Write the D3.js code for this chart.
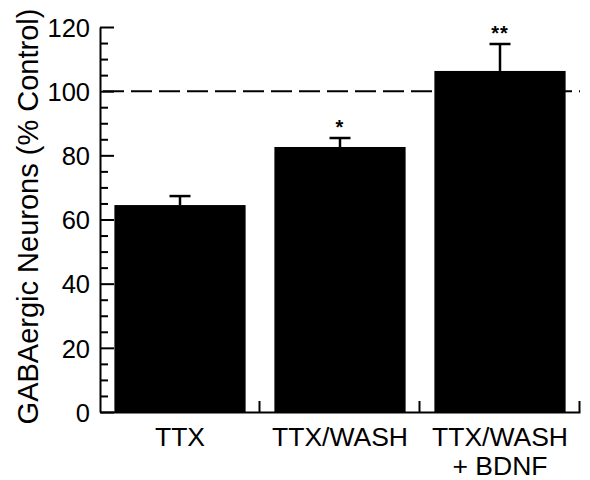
<!DOCTYPE html>
<html>
<head>
<meta charset="utf-8">
<script src="https://cdn.jsdelivr.net/npm/d3@7"></script>
<style>
  body { margin: 0; background: #fff; }
  text { font-family: "Liberation Sans", Arial, Helvetica, sans-serif; fill: #000; }
</style>
</head>
<body>
<div id="chart"></div>
<script>
// data
let categories = ['TTX', 'TTX/WASH', 'TTX/WASH\n+ BDNF'];
let values = [64.5, 82.6, 106.3];
let errors = [2.8, 2.8, 8.4];
let stars = ['', '*', '**'];
let yTicks = [0, 20, 40, 60, 80, 100, 120];
let control = 100;

let w = 590;
let h = 480;
let mLeft = 100, mRight = 580, mTop = 27, mBottom = 412;

let svg = d3.select('#chart')
  .append('svg')
  .attr('width', w)
  .attr('height', h);

let x = d3.scaleBand()
  .domain(categories)
  .range([mLeft, mRight])
  .paddingInner(0.18)
  .paddingOuter(0.09);

let y = d3.scaleLinear()
  .domain([0, 120])
  .range([mBottom, mTop]);

// dashed control line (behind bars)
svg.append('line')
  .attr('x1', mLeft)
  .attr('x2', mRight)
  .attr('y1', y(control))
  .attr('y2', y(control))
  .attr('stroke', '#000')
  .attr('stroke-width', 2)
  .attr('stroke-dasharray', '21,7')
  .attr('stroke-dashoffset', 25);

// bars
svg.selectAll('rect.bar')
  .data(values)
  .enter()
  .append('rect')
  .attr('class', 'bar')
  .attr('x', function(d, i) { return x(categories[i]); })
  .attr('y', function(d) { return y(d); })
  .attr('width', x.bandwidth())
  .attr('height', function(d) { return y(0) - y(d); })
  .attr('fill', '#000');

// error bars (upper only)
let eb = svg.selectAll('g.err')
  .data(values)
  .enter()
  .append('g')
  .attr('class', 'err')
  .attr('stroke', '#000')
  .attr('stroke-width', 2.5);

eb.append('line')
  .attr('x1', function(d, i) { return x(categories[i]) + x.bandwidth() / 2; })
  .attr('x2', function(d, i) { return x(categories[i]) + x.bandwidth() / 2; })
  .attr('y1', function(d) { return y(d); })
  .attr('y2', function(d, i) { return y(d + errors[i]); });

eb.append('line')
  .attr('x1', function(d, i) { return x(categories[i]) + x.bandwidth() / 2 - 10.5; })
  .attr('x2', function(d, i) { return x(categories[i]) + x.bandwidth() / 2 + 10.5; })
  .attr('y1', function(d, i) { return y(d + errors[i]); })
  .attr('y2', function(d, i) { return y(d + errors[i]); });

// significance stars
svg.selectAll('text.star')
  .data(values)
  .enter()
  .append('text')
  .attr('class', 'star')
  .attr('x', function(d, i) { return x(categories[i]) + x.bandwidth() / 2; })
  .attr('y', function(d, i) { return y(d + errors[i]) - 4; })
  .attr('text-anchor', 'middle')
  .attr('font-size', 20)
  .attr('font-weight', 'bold')
  .attr('letter-spacing', 1)
  .text(function(d, i) { return stars[i]; });

// y axis: major ticks
let yAxis = svg.append('g')
  .attr('transform', 'translate(' + mLeft + ',0)')
  .call(d3.axisLeft(y)
    .tickValues(yTicks)
    .tickSize(-14)
    .tickSizeOuter(0)
    .tickPadding(10));

yAxis.selectAll('text').attr('font-size', 25.5).attr('dy', '0.36em');
yAxis.selectAll('line').attr('stroke-width', 2);
yAxis.select('.domain').attr('stroke-width', 2);

// y axis: minor ticks
let minor = d3.range(5, 120, 5).filter(function(v) { return v % 20 !== 0; });
let yMinor = svg.append('g')
  .attr('transform', 'translate(' + mLeft + ',0)')
  .call(d3.axisLeft(y)
    .tickValues(minor)
    .tickSize(-8)
    .tickSizeOuter(0)
    .tickFormat(''));
yMinor.selectAll('line').attr('stroke-width', 2);
yMinor.select('.domain').remove();

// x axis
let xAxis = svg.append('g')
  .attr('transform', 'translate(0,' + mBottom + ')')
  .call(d3.axisBottom(x).tickSize(0).tickSizeOuter(0).tickFormat(''));
xAxis.select('.domain').attr('stroke-width', 2);

// boundary ticks between categories
let bounds = categories.map(function(c, i) { return mLeft + x.step() * (i + 1) - 0.5; });
svg.selectAll('line.xtick')
  .data(bounds)
  .enter()
  .append('line')
  .attr('class', 'xtick')
  .attr('x1', function(d) { return d; })
  .attr('x2', function(d) { return d; })
  .attr('y1', mBottom)
  .attr('y2', mBottom - 11)
  .attr('stroke', '#000')
  .attr('stroke-width', 2);

// category labels
let labels = svg.selectAll('text.cat')
  .data(categories)
  .enter()
  .append('text')
  .attr('class', 'cat')
  .attr('text-anchor', 'middle')
  .attr('font-size', 26.5);

labels.each(function(c) {
  let parts = c.split('\n');
  let t = d3.select(this);
  parts.forEach(function(p, j) {
    t.append('tspan')
      .attr('x', x(c) + x.bandwidth() / 2)
      .attr('y', 446 + j * 29)
      .text(p);
  });
});

// y axis title
svg.append('text')
  .attr('transform', 'translate(38,' + ((mTop + mBottom) / 2 - 3) + ') rotate(-90)')
  .attr('text-anchor', 'middle')
  .attr('font-size', 29)
  .text('GABAergic Neurons (% Control)');
</script>
</body>
</html>
